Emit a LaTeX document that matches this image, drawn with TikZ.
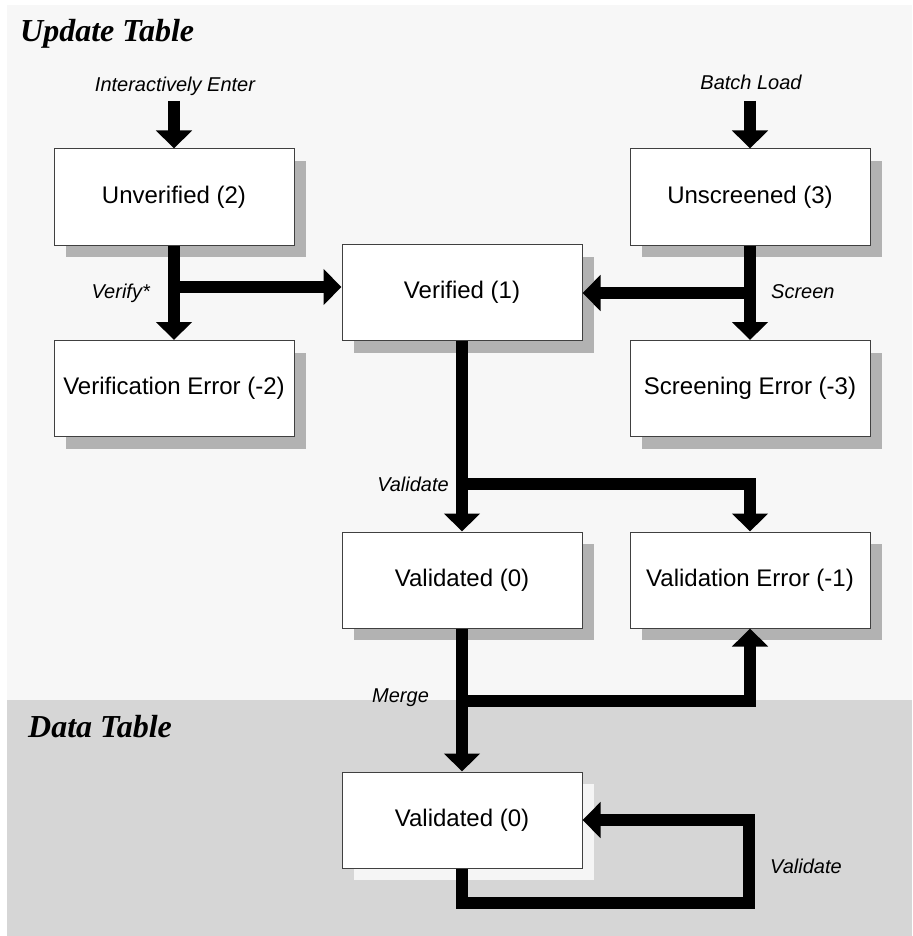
\documentclass[tikz,border=0pt]{standalone}
\usepackage{fontspec}
\setmainfont{Liberation Sans}
\newfontfamily\titlefont{Liberation Serif}
\usetikzlibrary{arrows.meta,shadows}
\definecolor{paneltop}{HTML}{F7F7F7}
\definecolor{panelbot}{HTML}{D6D6D6}
\definecolor{shadowgray}{HTML}{B2B2B2}
\definecolor{boxedge}{HTML}{404040}
\definecolor{paleshadow}{HTML}{F5F5F5}

\begin{document}
\begin{tikzpicture}[x=1pt,y=-1pt,
  statebox/.style={draw=boxedge, line width=1pt, fill=white,
    minimum width=240pt, minimum height=96pt, inner sep=0pt,
    font=\fontsize{24}{28}\selectfont,
    drop shadow={shadow xshift=12pt, shadow yshift=-12pt, fill=#1, opacity=1}},
  statebox/.default=shadowgray,
  flow/.style={line width=12pt, line join=miter,
    -{Triangle[width=35pt,length=18pt]}},
  lbl/.style={font=\fontsize{20}{24}\selectfont\itshape, inner sep=0pt},
  paneltitle/.style={font=\fontsize{32}{36}\selectfont\titlefont\bfseries\itshape,
    inner sep=0pt, anchor=base west}
]
% panels
\useasboundingbox (0,0) rectangle (912,936);
\fill[white] (0,0) rectangle (912,936);
\fill[paneltop] (7,5) rectangle (912,700);
\fill[panelbot] (7,700) rectangle (912,936);

\node[paneltitle] (tupd) at (20,42) {Update Table};
\node[paneltitle] (tdat) at (28,737) {Data Table};

% states
\node[statebox] (unv)  at (174,197)   {Unverified (2)};
\node[statebox] (uns)  at (750,197)   {Unscreened (3)};
\node[statebox] (ver)  at (462,292.5) {Verified (1)};
\node[statebox] (verr) at (174,388.5) {Verification Error (-2)};
\node[statebox] (serr) at (750,388.5) {Screening Error (-3)};
\node[statebox] (vd)   at (462,580)   {Validated (0)};
\node[statebox] (ve)   at (750,580)   {Validation Error (-1)};
\node[statebox=paleshadow] (dv) at (462,820) {Validated (0)};

% transition labels
\node[lbl, anchor=base]      (lie)  at (175,92)  {Interactively Enter};
\node[lbl, anchor=base]      (lbl2) at (751,90)  {Batch Load};
\node[lbl, anchor=base east] (lvf)  at (150,298) {Verify*};
\node[lbl, anchor=base west] (lsc)  at (771,298) {Screen};
\node[lbl, anchor=base east] (lva)  at (449,491) {Validate};
\node[lbl, anchor=base west] (lme)  at (372,702) {Merge};
\node[lbl, anchor=base west] (lvb)  at (770,873) {Validate};

% junction points
\coordinate (ein) at (174,101);
\coordinate (bin) at (750,101);
\coordinate (j1)  at (174,287);
\coordinate (j2)  at (750,293);
\coordinate (j3)  at (462,484);
\coordinate (j4)  at (462,701);
\coordinate (lp)  at (749,903);

% transitions
\draw[flow] (ein) -- (unv.north);
\draw[flow] (bin) -- (uns.north);
\draw[flow] (unv.south) -- (verr.north);
\draw[flow] (j1) -- (j1 -| ver.west);
\draw[flow] (uns.south) -- (serr.north);
\draw[flow] (j2) -- (j2 -| ver.east);
\draw[flow] (ver.south) -- (vd.north);
\draw[flow] (j3) -| (ve.north);
\draw[flow] (vd.south) -- (dv.north);
\draw[flow] (j4) -| (ve.south);
\draw[flow] (dv.south) -- (dv.south |- lp) -- (lp) -- (lp |- dv.east) -- (dv.east);
\end{tikzpicture}
\end{document}
